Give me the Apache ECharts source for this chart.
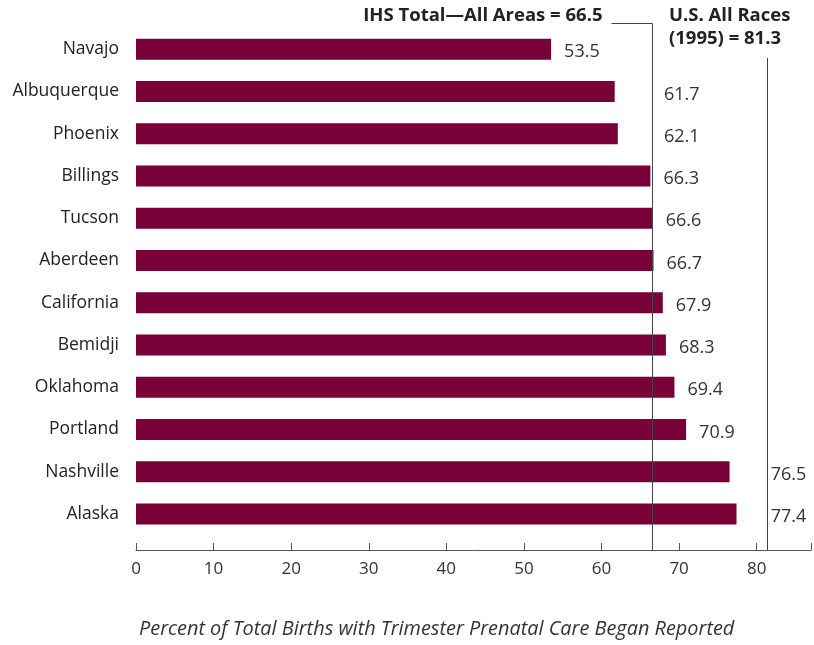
<!DOCTYPE html>
<html>
<head>
<meta charset="utf-8">
<script src="https://cdn.jsdelivr.net/npm/echarts@6/dist/echarts.min.js"></script>
<style>html,body{margin:0;padding:0;background:#fff}#c{width:814px;height:645px}</style>
</head>
<body>
<div id="c"></div>
<script>
var categories = ['Navajo','Albuquerque','Phoenix','Billings','Tucson','Aberdeen','California','Bemidji','Oklahoma','Portland','Nashville','Alaska'];
var values = [53.5, 61.7, 62.1, 66.3, 66.6, 66.7, 67.9, 68.3, 69.4, 70.9, 76.5, 77.4];
var refValues = [66.5, 81.3];
var refLabels = ['IHS Total\u2014All Areas = 66.5', 'U.S. All Races\n(1995) = 81.3'];
var xTicks = [0, 10, 20, 30, 40, 50, 60, 70, 80];
var axisTitle = 'Percent of Total Births with Trimester Prenatal Care Began Reported';

var FONT = '"Open Sans", "Noto Sans", sans-serif';
var BAR = '#7a0038';
var chart = echarts.init(document.getElementById('c'), null, {renderer: 'canvas'});

function refX(api, i) { return api.coord([refValues[i], 0])[0]; }

chart.setOption({
  animation: false,
  grid: {left: 136, right: 2, top: 28, bottom: 110},
  xAxis: {
    type: 'value', min: 0, max: 87, interval: 10, offset: 15,
    splitLine: {show: false},
    axisLine: {show: true, lineStyle: {color: '#555', width: 1}},
    axisTick: {show: true, inside: true, length: 7, lineStyle: {color: '#555'}},
    axisLabel: {
      margin: 11, fontSize: 17, color: '#333', fontFamily: FONT,
      formatter: function (v) { return xTicks.indexOf(v) >= 0 ? String(v) : ''; }
    }
  },
  yAxis: {
    type: 'category', data: categories, inverse: true,
    axisLine: {show: false}, axisTick: {show: false},
    axisLabel: {margin: 17, fontSize: 17.5, color: '#222', fontFamily: FONT, padding: [4, 0, 0, 0]}
  },
  series: [
    {
      type: 'bar', data: values, barWidth: 21,
      itemStyle: {color: BAR}, silent: true
    },
    {
      type: 'custom', silent: true, clip: false, z: 5,
      data: values.map(function (v, i) { return [v, i]; }),
      renderItem: function (params, api) {
        var p = api.coord([api.value(0), api.value(1)]);
        var lx = p[0] + 13;
        var w = 38;
        for (var k = 0; k < refValues.length; k++) {
          var rx = refX(api, k);
          if (lx < rx && lx + w > rx) { lx = rx + (k === 0 ? 12 : 4); }
        }
        return {
          type: 'text',
          style: {
            x: lx, y: p[1] + 3, text: api.value(0).toFixed(1),
            fill: '#333', font: '18px ' + FONT,
            textAlign: 'left', textVerticalAlign: 'middle'
          }
        };
      }
    },
    {
      type: 'custom', silent: true, clip: false, z: 4,
      data: refValues.map(function (v, i) { return [v, i]; }),
      renderItem: function (params, api) {
        var i = params.dataIndex;
        var cs = params.coordSys;
        var x = Math.round(api.coord([api.value(0), 0])[0]) + 0.5;
        var bottom = cs.y + cs.height + 15;
        var lineStyle = {stroke: '#444', lineWidth: 1, fill: null};
        if (i === 0) {
          return {
            type: 'group', children: [
              {type: 'polyline', shape: {points: [[x - 41, cs.y - 4.5], [x, cs.y - 4.5], [x, bottom]]}, style: lineStyle},
              {type: 'text', style: {x: x - 50, y: 16, text: refLabels[0], fill: '#222', font: 'bold 18.5px ' + FONT, textAlign: 'right', textVerticalAlign: 'middle'}}
            ]
          };
        }
        var x0 = Math.round(refX(api, 0));
        return {
          type: 'group', children: [
            {type: 'line', shape: {x1: x, y1: cs.y + 30, x2: x, y2: bottom}, style: lineStyle},
            {type: 'text', style: {x: x0 + 17, y: 4, text: refLabels[1], fill: '#222', font: 'bold 18.5px ' + FONT, lineHeight: 23, textAlign: 'left', textVerticalAlign: 'top'}}
          ]
        };
      }
    }
  ],
  graphic: [
    {
      type: 'text', left: 139, top: 619,
      style: {text: axisTitle, fill: '#333', font: 'italic 19.9px ' + FONT}
    }
  ]
});
</script>
</body>
</html>
